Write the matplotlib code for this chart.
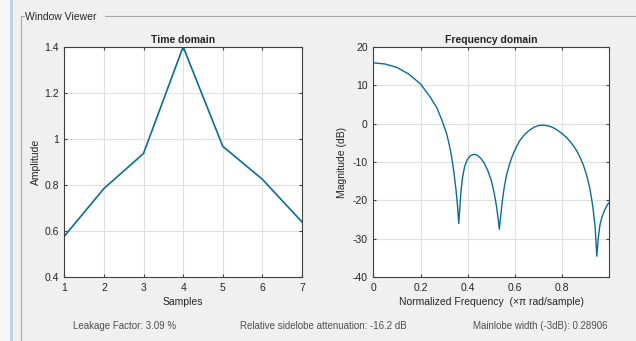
import numpy as np
import matplotlib
matplotlib.use("Agg")
import matplotlib.pyplot as plt
from matplotlib.lines import Line2D

# time domain samples of the window
samples = [1, 2, 3, 4, 5, 6, 7]
amplitude = [0.578, 0.785, 0.937, 1.4, 0.968, 0.825, 0.64]

# frequency response
freq = [0.0, 0.05, 0.1, 0.15, 0.2, 0.24, 0.27, 0.29, 0.31, 0.32, 0.33, 0.34, 0.35,
        0.357, 0.362, 0.366, 0.371, 0.378, 0.387, 0.398, 0.41, 0.425, 0.44, 0.455,
        0.47, 0.485, 0.50, 0.512, 0.522, 0.529, 0.534, 0.539, 0.546, 0.555, 0.565,
        0.577, 0.59, 0.605, 0.62, 0.64, 0.66, 0.68, 0.70, 0.72, 0.74, 0.76, 0.78,
        0.80, 0.82, 0.84, 0.86, 0.875, 0.89, 0.905, 0.918, 0.93, 0.94, 0.947,
        0.953, 0.96, 0.968, 0.98, 0.993, 1.0]
mag_db = [15.8, 15.5, 14.6, 12.9, 10.3, 7.0, 4.0, 1.0, -2.5, -5.0, -8.0, -12.0, -17.0,
          -21.5, -26.0, -22.5, -18.0, -14.0, -11.2, -9.4, -8.4, -8.0, -8.2, -9.0,
          -10.3, -12.2, -14.8, -18.0, -21.5, -24.8, -27.5, -24.5, -20.5, -16.5, -13.3,
          -10.6, -8.3, -6.2, -4.5, -2.9, -1.8, -1.0, -0.5, -0.4, -0.6, -1.0, -1.7,
          -2.6, -3.7, -5.1, -6.9, -8.6, -10.8, -13.6, -17.0, -21.5, -27.0, -34.5,
          -30.0, -26.5, -24.5, -22.5, -21.0, -20.5]

time_ticks = [1, 2, 3, 4, 5, 6, 7]
amp_ticks = [0.4, 0.6, 0.8, 1, 1.2, 1.4]
amp_labels = ['0.4', '0.6', '0.8', '1', '1.2', '1.4']
freq_ticks = [0, 0.2, 0.4, 0.6, 0.8]
freq_labels = ['0', '0.2', '0.4', '0.6', '0.8']
db_ticks = [-40, -30, -20, -10, 0, 10, 20]

line_col = '#0b6c96'
bg = '#f0f0f0'
txt = '#262626'

fig = plt.figure(figsize=(6.36, 3.41), dpi=100, facecolor=bg)

# window edge strip on the far left
fig.add_artist(plt.Rectangle((0, 0), 10 / 636, 1, transform=fig.transFigure,
                             facecolor='#f7f7f7', edgecolor='none'))
fig.add_artist(plt.Rectangle((10 / 636, 0), 3 / 636, 1, transform=fig.transFigure,
                             facecolor='#b8d4ea', edgecolor='none'))
# panel border
fig.add_artist(Line2D([21 / 636, 21 / 636], [0, 1 - 16 / 341], transform=fig.transFigure,
                      color='#a8a8a8', lw=0.8))
fig.add_artist(Line2D([21 / 636, 24 / 636], [1 - 16 / 341] * 2, transform=fig.transFigure,
                      color='#a8a8a8', lw=0.8))
fig.add_artist(Line2D([105 / 636, 1], [1 - 16 / 341] * 2, transform=fig.transFigure,
                      color='#a8a8a8', lw=0.8))
fig.text(25 / 636, 1 - 17 / 341, 'Window Viewer', fontsize=7.5, color=txt,
         va='center', ha='left', family='Liberation Sans')

ax1 = fig.add_axes([64.3 / 636, 1 - 277.3 / 341, 237.7 / 636, 230.6 / 341])
ax2 = fig.add_axes([373.3 / 636, 1 - 277.3 / 341, 236.0 / 636, 230.6 / 341])

for ax in (ax1, ax2):
    ax.set_facecolor('white')
    ax.grid(True, color='#e0e0e0', lw=0.8)
    ax.set_axisbelow(True)
    for s in ax.spines.values():
        s.set_color('#404040')
        s.set_linewidth(0.8)
    ax.tick_params(labelsize=7.5, colors='#404040', labelcolor=txt, length=2.5,
                   direction='in', top=True, right=True, pad=4)

ax1.plot(samples, amplitude, color=line_col, lw=1.2)
ax1.set_xlim(1, 7)
ax1.set_ylim(0.4, 1.4)
ax1.set_xticks(time_ticks)
ax1.set_yticks(amp_ticks)
ax1.set_yticklabels(amp_labels, family='Liberation Sans')
ax1.set_xticklabels([str(t) for t in time_ticks], family='Liberation Sans')
ax1.set_title('Time domain', fontsize=7.5, fontweight='bold', color=txt, pad=3,
              family='Liberation Sans')
ax1.set_xlabel('Samples', fontsize=7.5, color=txt, family='Liberation Sans', labelpad=3)
ax1.set_ylabel('Amplitude', fontsize=7.5, color=txt, family='Liberation Sans', labelpad=2)

ax2.plot(freq, mag_db, color=line_col, lw=1.0)
ax2.set_xlim(0, 1)
ax2.set_ylim(-40, 20)
ax2.set_xticks(freq_ticks)
ax2.set_xticklabels(freq_labels, family='Liberation Sans')
ax2.set_yticks(db_ticks)
ax2.set_yticklabels([str(t) for t in db_ticks], family='Liberation Sans')
ax2.set_title('Frequency domain', fontsize=7.5, fontweight='bold', color=txt, pad=3,
              family='Liberation Sans')
ax2.set_xlabel('Normalized Frequency  (\u00d7\u03c0 rad/sample)', fontsize=7.5, color=txt,
               family='Liberation Sans', labelpad=3)
ax2.set_ylabel('Magnitude (dB)', fontsize=7.5, color=txt, family='Liberation Sans', labelpad=4)

foot_y = 1 - 326 / 341
fig.text(125 / 636, foot_y, 'Leakage Factor: 3.09 %', fontsize=7, color='#505050',
         ha='center', va='center', family='Liberation Sans')
fig.text(323 / 636, foot_y, 'Relative sidelobe attenuation: -16.2 dB', fontsize=7,
         color='#505050', ha='center', va='center', family='Liberation Sans')
fig.text(608 / 636, foot_y, 'Mainlobe width (-3dB): 0.28906', fontsize=7,
         color='#505050', ha='right', va='center', family='Liberation Sans')

fig.savefig('out.png', dpi=100, facecolor=bg)
